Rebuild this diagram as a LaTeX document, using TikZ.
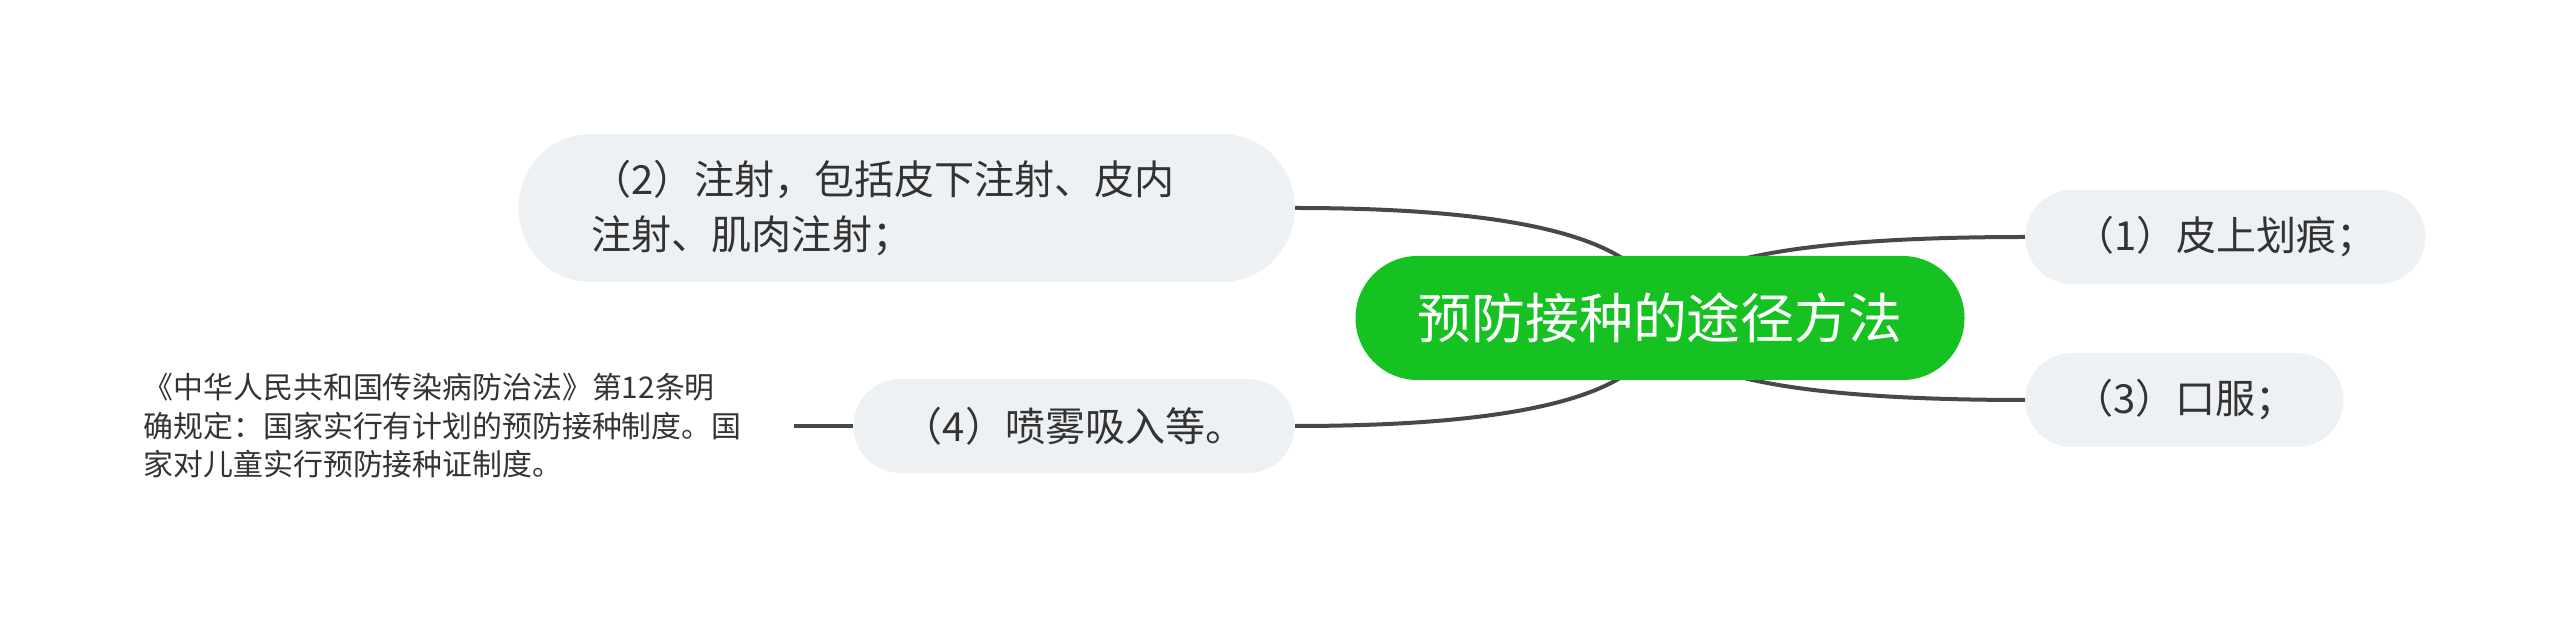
\documentclass[tikz,border=0pt]{standalone}
\usepackage{fontspec}
\setmainfont{Noto Sans CJK SC}
\usetikzlibrary{positioning,backgrounds,calc}
\definecolor{rootgreen}{RGB}{22,193,34}
\definecolor{branchgray}{RGB}{238,241,244}
\definecolor{textgray}{RGB}{51,51,51}
\definecolor{linegray}{RGB}{72,72,72}

\begin{document}
\begin{tikzpicture}[thin,
		root node/.style = {rounded corners=1.24cm, fill=rootgreen, text=white, inner sep=0pt,
			minimum width=12.18cm, minimum height=2.48cm, font=\fontsize{30.7}{36}\selectfont},
		branch node/.style = {fill=branchgray, text=textgray, inner sep=0pt, minimum height=1.88cm,
			rounded corners=0.93cm, font=\fontsize{22.8}{31.3}\selectfont},
		note node/.style = {text=textgray, align=left, text width=12.8cm, inner xsep=0.2cm,
			inner ysep=0pt, font=\fontsize{17}{21.9}\selectfont},
		link/.style = {draw=linegray, line width=0.08cm}]
		
		\useasboundingbox (0,0) rectangle (51.2,12.76);
		
		\node[root node] (0) at (33.2,6.4) {预防接种的途径方法};
		\node[branch node,anchor=west,minimum width=8cm] (1) at (40.5,8.02) {（1）皮上划痕；};
		\node[branch node,anchor=east,minimum width=15.52cm,minimum height=2.96cm,rounded corners=1.45cm,
			text width=12.6cm,align=left] (2) at (25.9,8.6) {（2）注射，包括皮下注射、皮内\\注射、肌肉注射；};
		\node[branch node,anchor=west,minimum width=6.36cm] (3) at (40.5,4.76) {（3）口服；};
		\node[branch node,anchor=east,minimum width=8.82cm] (4) at (25.9,4.24) {（4）喷雾吸入等。};
		\node[note node] [left=1.18cm of 4] (5) {《中华人民共和国传染病防治法》第12条明\\确规定：国家实行有计划的预防接种制度。国\\家对儿童实行预防接种证制度。};
		
		\begin{scope}[on background layer]
		\foreach \n/\a in {1/west,2/east,3/west,4/east}
			\draw[link] (0.center) .. controls ($(0.center)!0.67!(0.center |- \n.\a)$)
				and ($(\n.\a)!0.67!(0.center |- \n.\a)$) .. (\n.\a);
		\end{scope}
		\draw[link] (4) -- (5);
		\end{tikzpicture}
\end{document}
